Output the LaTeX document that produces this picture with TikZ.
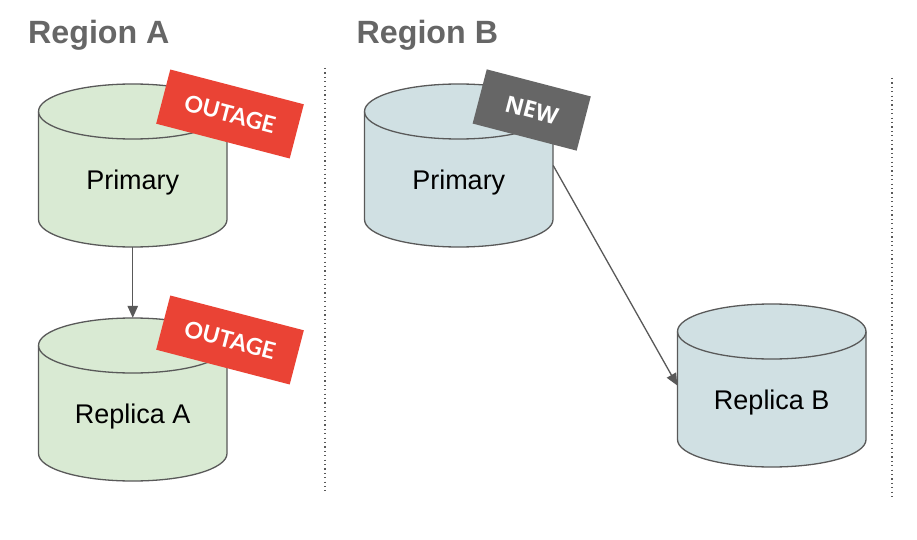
\documentclass[tikz,border=0pt]{standalone}
\usepackage{fontspec}
\setmainfont{Liberation Sans}
\newfontfamily\badgefont{Lato}
\newfontfamily\nbadgefont{Open Sans}
\usetikzlibrary{arrows.meta}
\definecolor{greenfill}{HTML}{D9EAD3}
\definecolor{bluefill}{HTML}{D0E0E3}
\definecolor{edgegray}{HTML}{595959}
\definecolor{titlegray}{HTML}{666666}
\definecolor{outagered}{HTML}{EA4335}
\newcommand{\dbcylinder}[5]{% name, left x, top y, fill, label
  \path[fill=#4] (#2,#3+27.5) .. controls (#2,#3+12) and (#2+42,#3) .. (#2+94.25,#3)
     .. controls (#2+146.5,#3) and (#2+188.5,#3+12) .. (#2+188.5,#3+27.5)
     -- (#2+188.5,#3+135.5) .. controls (#2+188.5,#3+151) and (#2+146.5,#3+163) .. (#2+94.25,#3+163)
     .. controls (#2+42,#3+163) and (#2,#3+151) .. (#2,#3+135.5) -- cycle;
  \draw[dbline] (#2,#3+27.5) .. controls (#2,#3+12) and (#2+42,#3) .. (#2+94.25,#3)
     .. controls (#2+146.5,#3) and (#2+188.5,#3+12) .. (#2+188.5,#3+27.5)
     -- (#2+188.5,#3+135.5) .. controls (#2+188.5,#3+151) and (#2+146.5,#3+163) .. (#2+94.25,#3+163)
     .. controls (#2+42,#3+163) and (#2,#3+151) .. (#2,#3+135.5) -- cycle;
  \draw[dbline] (#2,#3+27.5) .. controls (#2,#3+43) and (#2+42,#3+55) .. (#2+94.25,#3+55)
     .. controls (#2+146.5,#3+55) and (#2+188.5,#3+43) .. (#2+188.5,#3+27.5);
  \node[dblabel] (#1) at (#2+94.25,#3+81.5) {\smash{\raisebox{-24pt}{#5}}};
}
\begin{document}
\begin{tikzpicture}[x=1pt,y=-1pt,
  dbline/.style={draw=edgegray,line width=1.3pt},
  dblabel/.style={minimum width=188.5pt,minimum height=163pt,inner sep=0pt,font=\fontsize{27}{30}\selectfont,text=black},
  regiontitle/.style={anchor=base west,inner sep=0pt,font=\fontsize{32.2}{38}\selectfont\bfseries,text=titlegray},
  badge/.style={rotate=-14.6,minimum height=56pt,inner sep=0pt,text=white},
  outagebadge/.style={badge,fill=outagered,minimum width=138pt,font=\badgefont\fontsize{23}{28}\selectfont\bfseries},
  newbadge/.style={badge,fill=titlegray,minimum width=107.5pt,font=\nbadgefont\fontsize{23}{28}\selectfont\bfseries},
  flow/.style={draw=edgegray,line width=1.3pt,-{Triangle[length=12pt,width=10.5pt]}},
  divider/.style={draw=edgegray,line width=1.2pt,dash pattern=on 1.2pt off 3.2pt}]
\useasboundingbox (0,0) rectangle (917,540);
\fill[white] (0,0) rectangle (917,540);

\node[regiontitle] (ta) at (28,44) {Region A};
\node[regiontitle] (tb) at (356.5,44) {Region B};

\coordinate (d1a) at (325,68);
\coordinate (d1b) at (325,491);
\coordinate (d2a) at (892,78);
\coordinate (d2b) at (892,499);
\draw[divider] (d1a) -- (d1b);
\draw[divider] (d2a) -- (d2b);

\dbcylinder{pa}{38.5}{84}{greenfill}{Primary}
\dbcylinder{ra}{38.5}{318}{greenfill}{Replica A}
\dbcylinder{pb}{364.5}{84}{bluefill}{Primary}
\dbcylinder{rb}{677.5}{304}{bluefill}{Replica B}

\draw[flow] (pa.south) -- (ra.north);
\draw[flow] (pb.east) -- (rb.west);

\node[outagebadge] (o1) at (230,114) {OUTAGE};
\node[outagebadge] (o2) at (230,340) {OUTAGE};
\node[newbadge] (n1) at (531.7,110) {NEW};
\end{tikzpicture}
\end{document}
